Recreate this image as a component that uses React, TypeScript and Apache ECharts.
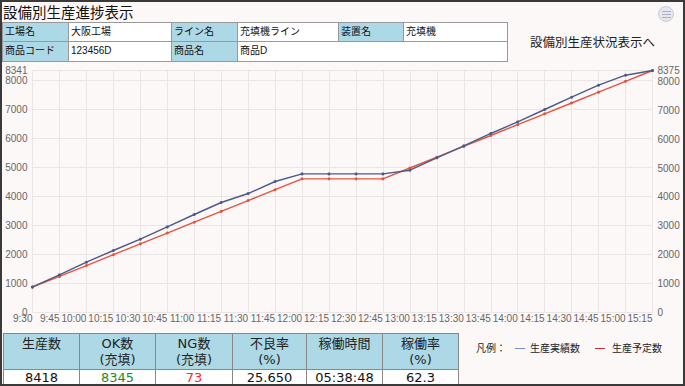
import React, { useEffect, useRef } from "react";
import * as echarts from "echarts";

const timeLabels = ["9:30","9:45","10:00","10:15","10:30","10:45","11:00","11:15","11:30","11:45","12:00","12:15","12:30","12:45","13:00","13:15","13:30","13:45","14:00","14:15","14:30","14:45","15:00","15:15"];
const actualCounts = [882,1296,1734,2137,2526,2950,3378,3791,4101,4515,4777,4777,4777,4777,4904,5330,5742,6170,6569,6997,7421,7834,8179,8341];
const plannedCounts = [875,1250,1625,2000,2375,2750,3125,3500,3875,4250,4625,4625,4625,4625,5000,5375,5750,6125,6500,6875,7250,7625,8000,8375];

const pageTitle = "設備別生産進捗表示";
const linkText = "設備別生産状況表示へ";
const infoRow1 = [
  { text: "工場名", label: true, x0: 2, x1: 68 },
  { text: "大阪工場", label: false, x0: 68, x1: 171 },
  { text: "ライン名", label: true, x0: 171, x1: 237 },
  { text: "充填機ライン", label: false, x0: 237, x1: 338 },
  { text: "装置名", label: true, x0: 338, x1: 403 },
  { text: "充填機", label: false, x0: 403, x1: 507 },
];
const infoRow2 = [
  { text: "商品コード", label: true, x0: 2, x1: 68 },
  { text: "123456D", label: false, x0: 68, x1: 171 },
  { text: "商品名", label: true, x0: 171, x1: 237 },
  { text: "商品D", label: false, x0: 237, x1: 507 },
];
const summaryHeaders = [["生産数"], ["OK数", "(充填)"], ["NG数", "(充填)"], ["不良率", "(%)"], ["稼働時間"], ["稼働率", "(%)"]];
const summaryValues = ["8418", "8345", "73", "25.650", "05:38:48", "62.3"];
const summaryColors = ["#111", "#1e8a1e", "#ff2626", "#111", "#111", "#111"];
const summaryEdges = [3, 79, 155, 232, 306, 382, 458];
const legendNames = ["生産実績数", "生産予定数"];

const ACTUAL_COLOR = "#4b5a8a";
const PLAN_COLOR = "#e4553c";
const BG = "#fdf8f8";
const CJK = '"Liberation Sans", "Noto Sans CJK JP", sans-serif';
const TABLE_FONT = '"DejaVu Sans", "Noto Sans CJK JP", sans-serif';

function cell(x0: number, y0: number, x1: number, y1: number, bg: string): React.CSSProperties {
  return {
    position: "absolute",
    left: x0,
    top: y0,
    width: x1 - x0 + 1,
    height: y1 - y0 + 1,
    boxSizing: "border-box",
    border: "1px solid #999",
    background: bg,
    overflow: "hidden",
    whiteSpace: "nowrap",
  };
}

export default function App() {
  const ref = useRef<HTMLDivElement>(null);

  useEffect(() => {
    if (!ref.current) return;
    const chart = echarts.init(ref.current, undefined, { renderer: "svg" });
    const axisFont = { fontSize: 10, color: "#666", fontFamily: "Liberation Sans" };
    const plain = (v: number) => String(v);
    chart.setOption({
      animation: false,
      grid: { left: 32.5, right: 32.5, top: 70.5, bottom: 73.5, containLabel: false },
      xAxis: {
        type: "category",
        data: timeLabels,
        boundaryGap: false,
        axisLine: { show: false },
        axisTick: { show: false },
        axisLabel: { ...axisFont, align: "right", margin: 1, interval: 0 },
        splitLine: { show: true, lineStyle: { color: "#ebe5e5", width: 1 } },
      },
      yAxis: [
        {
          type: "value",
          min: 0,
          max: Math.max(...actualCounts),
          interval: 1000,
          axisLine: { show: false },
          axisTick: { show: false },
          axisLabel: { ...axisFont, margin: 5, formatter: plain },
          splitLine: { show: true, lineStyle: { color: "#ebe5e5", width: 1 } },
        },
        {
          type: "value",
          position: "right",
          min: 0,
          max: Math.max(...plannedCounts),
          interval: 1000,
          axisLine: { show: false },
          axisTick: { show: false },
          axisLabel: { ...axisFont, margin: 5, formatter: plain },
          splitLine: { show: false },
        },
      ],
      series: [
        {
          name: legendNames[0],
          type: "line",
          yAxisIndex: 0,
          data: actualCounts,
          color: ACTUAL_COLOR,
          symbol: "circle",
          symbolSize: 3,
          lineStyle: { width: 1.4, color: ACTUAL_COLOR },
          z: 3,
        },
        {
          name: legendNames[1],
          type: "line",
          yAxisIndex: 1,
          data: plannedCounts,
          color: PLAN_COLOR,
          symbol: "circle",
          symbolSize: 3,
          lineStyle: { width: 1.4, color: PLAN_COLOR },
          z: 2,
        },
      ],
    });
    return () => chart.dispose();
  }, []);

  return (
    <div
      style={{
        position: "fixed",
        left: 0,
        top: 0,
        width: 685,
        height: 386,
        background: BG,
        overflow: "hidden",
        fontFamily: CJK,
        color: "#111",
      }}
    >
      <div ref={ref} style={{ position: "absolute", left: 0, top: 0, width: 685, height: 386 }} />

      <div style={{ position: "absolute", left: 3, top: 2, fontSize: 14.5, lineHeight: "19px", fontFamily: '"Noto Sans CJK JP", sans-serif' }}>
        {pageTitle}
      </div>

      {infoRow1.map((c, i) => (
        <div key={"r1" + i} style={{ ...cell(c.x0, 22, c.x1, 41, c.label ? "#add8e6" : "#fff"), fontSize: 10, lineHeight: "17px", paddingLeft: 2 }}>
          {c.text}
        </div>
      ))}
      {infoRow2.map((c, i) => (
        <div key={"r2" + i} style={{ ...cell(c.x0, 41, c.x1, 61, c.label ? "#add8e6" : "#fff"), fontSize: 10, lineHeight: "18px", paddingLeft: 2 }}>
          {c.text}
        </div>
      ))}

      <div style={{ position: "absolute", left: 530, top: 33, fontSize: 12.5, lineHeight: "18px", fontFamily: '"Noto Sans CJK JP", sans-serif', color: "#222" }}>
        {linkText}
      </div>

      <div
        style={{
          position: "absolute",
          left: 658,
          top: 6,
          width: 16,
          height: 16,
          boxSizing: "border-box",
          borderRadius: "50%",
          border: "1px solid #c9ced8",
          background: "#e4e7ee",
        }}
      >
        {[4, 7, 10].map((t) => (
          <div key={t} style={{ position: "absolute", left: 2.5, top: t - 0.5, width: 9, height: 1.5, background: "#aab2c0" }} />
        ))}
      </div>

      {summaryHeaders.map((lines, i) => (
        <div
          key={"h" + i}
          style={{
            ...cell(summaryEdges[i], 333, summaryEdges[i + 1], 369, "#add8e6"),
            border: "1px solid #888",
            fontFamily: TABLE_FONT,
            fontSize: 13,
            lineHeight: "16px",
            paddingTop: 2,
            textAlign: "center",
            color: "#222",
          }}
        >
          {lines.map((l, j) => (
            <div key={j}>{l}</div>
          ))}
        </div>
      ))}
      {summaryValues.map((v, i) => (
        <div
          key={"v" + i}
          style={{
            ...cell(summaryEdges[i], 369, summaryEdges[i + 1], 390, "#fff"),
            border: "1px solid #888",
            fontFamily: TABLE_FONT,
            fontSize: 13,
            lineHeight: "15px",
            textAlign: "center",
            color: summaryColors[i],
          }}
        >
          {v}
        </div>
      ))}

      <div style={{ position: "absolute", left: 476, top: 340, fontSize: 10, lineHeight: "16px", fontFamily: '"Noto Sans CJK JP", sans-serif', color: "#222", whiteSpace: "nowrap" }}>
        凡例：
      </div>
      <div style={{ position: "absolute", left: 515, top: 347.5, width: 10, height: 1.5, background: "#6f8fd6" }} />
      <div style={{ position: "absolute", left: 530, top: 340, fontSize: 10, lineHeight: "16px", fontFamily: '"Noto Sans CJK JP", sans-serif', color: "#222", whiteSpace: "nowrap" }}>
        {legendNames[0]}
      </div>
      <div style={{ position: "absolute", left: 595, top: 347.5, width: 10, height: 1.5, background: "#c8302c" }} />
      <div style={{ position: "absolute", left: 612, top: 340, fontSize: 10, lineHeight: "16px", fontFamily: '"Noto Sans CJK JP", sans-serif', color: "#222", whiteSpace: "nowrap" }}>
        {legendNames[1]}
      </div>

      <div style={{ position: "absolute", left: 0, top: 0, width: 685, height: 386, boxSizing: "border-box", border: "2px solid #3a3a3a", pointerEvents: "none" }} />
    </div>
  );
}
